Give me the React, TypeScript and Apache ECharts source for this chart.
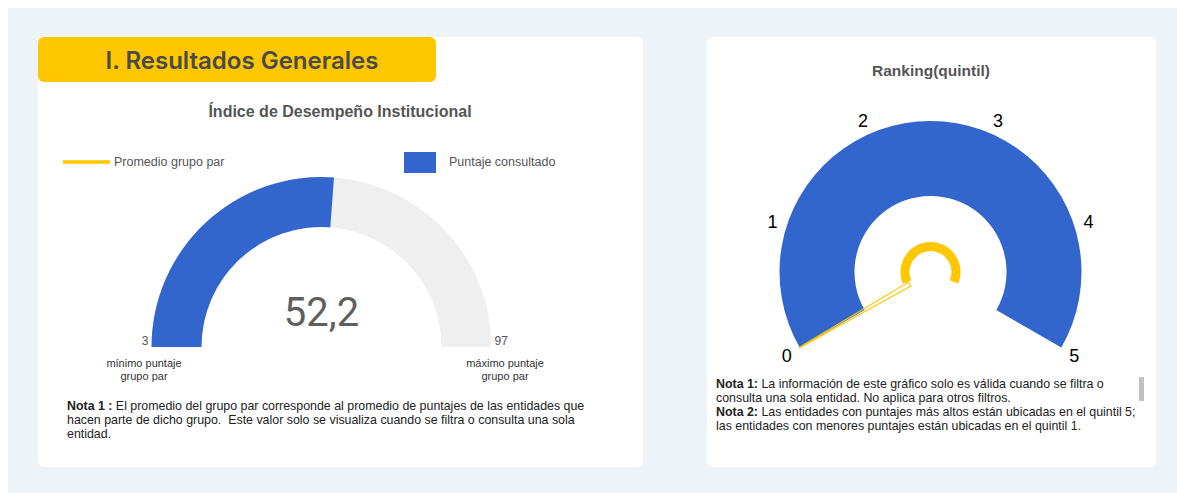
import React, { useEffect, useRef } from "react";
import * as echarts from "echarts";

// ---- data ----
const idiValue = 52.2;
const idiMin = 3;
const idiMax = 97;
const idiLabels = ["mínimo puntaje\ngrupo par", "máximo puntaje\ngrupo par"];
const legendNames = ["Promedio grupo par", "Puntaje consultado"];
const rankingValue = 0;
const rankingMin = 0;
const rankingMax = 5;
const rankingTicks = [0, 1, 2, 3, 4, 5];
const note1Lines = [
  "{b|Nota 1 :} El promedio del grupo par corresponde al promedio de puntajes de las entidades que",
  "hacen parte de dicho grupo.  Este valor solo se visualiza cuando se filtra o consulta una sola",
  "entidad.",
];
const note2Lines = [
  "{b|Nota 1:} La información de este gráfico solo es válida cuando se filtra o",
  "consulta una sola entidad. No aplica para otros filtros.",
  "{b|Nota 2:} Las entidades con puntajes más altos están ubicadas en el quintil 5;",
  "las entidades con menores puntajes están ubicadas en el quintil 1.",
];

const BLUE = "#3366cc";
const YELLOW = "#ffc700";
const GRAY = "#efefef";
const ARIAL = '"Liberation Sans", Arial, sans-serif';

// gauge geometry
const G1 = { cx: 313.5, cy: 339, r: 170, w: 50 };
const G2 = { cx: 922.5, cy: 264, r: 151, w: 75, start: 210, end: -30 };

const txt = (
  text: string,
  x: number,
  y: number,
  fontSize: number,
  fill: string,
  align = "left",
  vAlign = "middle",
  fontWeight: string | number = "normal",
  fontFamily = ARIAL,
  extra: any = {}
) => ({
  type: "text",
  x,
  y,
  z: 5,
  style: {
    text,
    fontSize,
    fontFamily,
    fontWeight,
    fill,
    align,
    verticalAlign: vAlign,
    textAlign: align,
    textVerticalAlign: vAlign,
    ...extra,
  },
});

const richNote = (lines: string[], x: number, y: number) => ({
  type: "text",
  x,
  y,
  z: 5,
  style: {
    text: lines.join("\n"),
    fontSize: 12.4,
    fontFamily: ARIAL,
    fill: "#222",
    lineHeight: 14,
    align: "left",
    verticalAlign: "top",
    textAlign: "left",
    textVerticalAlign: "top",
    rich: {
      b: {
        fontSize: 12.4,
        fontFamily: ARIAL,
        fontWeight: "bold",
        fill: "#222",
        lineHeight: 14,
      },
    },
  },
});

// tick labels of the ranking gauge, placed on the gauge's own angular scale
const rankingLabels = rankingTicks.map((v) => {
  const a =
    ((G2.start + ((v - rankingMin) / (rankingMax - rankingMin)) * (G2.end - G2.start)) * Math.PI) / 180;
  const rr = G2.r + 15;
  return txt(String(v), G2.cx + rr * Math.cos(a), G2.cy - rr * Math.sin(a) + 1, 18, "#000", "center", "middle");
});

export default function App() {
  const ref = useRef<HTMLDivElement>(null);
  useEffect(() => {
    if (!ref.current) return;
    const chart = echarts.init(ref.current, null, { renderer: "svg" });
    const option: any = {
      animation: false,
      backgroundColor: "#eef3f8",
      graphic: [
        { type: "rect", z: 0, shape: { x: 30, y: 29, width: 605, height: 430, r: 6 }, style: { fill: "#fff" } },
        { type: "rect", z: 0, shape: { x: 699, y: 29, width: 449, height: 430, r: 6 }, style: { fill: "#fff" } },
        { type: "rect", z: 1, shape: { x: 30, y: 29, width: 398, height: 45, r: 6 }, style: { fill: YELLOW } },
        txt("I. Resultados Generales", 234, 52, 24, "#4a4a4a", "center", "middle", 600, "Inter, sans-serif"),
        txt("Índice de Desempeño Institucional", 332, 103, 16, "#555", "center", "middle", "bold"),
        { type: "line", z: 5, shape: { x1: 55, y1: 154, x2: 102, y2: 154 }, style: { stroke: YELLOW, lineWidth: 3.5 } },
        txt(legendNames[0], 106, 154, 12.5, "#555"),
        { type: "rect", z: 5, shape: { x: 396, y: 144, width: 32, height: 21 }, style: { fill: BLUE } },
        txt(legendNames[1], 441, 154, 12.5, "#555"),
        txt(String(idiMin), G1.cx - G1.r - 3, G1.cy - 6, 12, "#555", "right", "middle"),
        txt(String(idiMax), G1.cx + G1.r + 3, G1.cy - 6, 12, "#555", "left", "middle"),
        txt(idiLabels[0], 136, 361, 11, "#333", "center", "middle", "normal", ARIAL, { lineHeight: 13 }),
        txt(idiLabels[1], 497, 361, 11, "#333", "center", "middle", "normal", ARIAL, { lineHeight: 13 }),
        richNote(note1Lines, 59, 391),
        txt("Ranking(quintil)", 923, 62, 15.5, "#555", "center", "middle", "bold"),
        ...rankingLabels,
        richNote(note2Lines, 708, 369),
        { type: "rect", z: 5, shape: { x: 1131, y: 369, width: 5, height: 24 }, style: { fill: "#c1c1c1" } },
      ],
      series: [
        {
          type: "gauge",
          center: [G1.cx, G1.cy],
          radius: G1.r,
          startAngle: 180,
          endAngle: 0,
          min: idiMin,
          max: idiMax,
          splitNumber: 1,
          axisLine: { lineStyle: { width: G1.w, color: [[1, GRAY]] } },
          progress: { show: true, width: G1.w, itemStyle: { color: BLUE } },
          pointer: { show: false },
          anchor: { show: false },
          axisTick: { show: false },
          splitLine: { show: false, length: 0, distance: 0 },
          axisLabel: { show: false },
          title: { show: false },
          detail: {
            offsetCenter: [0, -35],
            fontSize: 40,
            fontFamily: "Roboto, sans-serif",
            fontWeight: "normal",
            color: "#5f5f5f",
            formatter: (v: number) => v.toFixed(1).replace(".", ","),
          },
          data: [{ value: idiValue, name: legendNames[1] }],
        },
        {
          type: "gauge",
          center: [G2.cx, G2.cy],
          radius: G2.r,
          startAngle: G2.start,
          endAngle: G2.end,
          min: rankingMin,
          max: rankingMax,
          splitNumber: rankingTicks.length - 1,
          axisLine: { lineStyle: { width: G2.w, color: [[1, BLUE]] } },
          pointer: {
            show: true,
            icon: "path://M0 100 L10 100 L5.6 0 L4.4 0 Z",
            length: 127,
            width: 4.5,
            offsetCenter: [0, -24],
            itemStyle: { color: "rgba(255,255,255,0)", borderColor: YELLOW, borderWidth: 1.2 },
          },
          anchor: { show: false },
          axisTick: { show: false },
          splitLine: { show: false, length: 0, distance: 0 },
          axisLabel: { show: false },
          title: { show: false },
          detail: { show: false },
          data: [{ value: rankingValue, name: "Ranking(quintil)" }],
        },
        {
          type: "gauge",
          center: [G2.cx, G2.cy],
          radius: 30,
          startAngle: 203,
          endAngle: -23,
          min: 0,
          max: 1,
          axisLine: { lineStyle: { width: 9, color: [[1, YELLOW]] } },
          pointer: { show: false },
          anchor: { show: false },
          axisTick: { show: false },
          splitLine: { show: false },
          axisLabel: { show: false },
          title: { show: false },
          detail: { show: false },
          data: [{ value: 0 }],
        },
      ],
    };
    chart.setOption(option);
    return () => chart.dispose();
  }, []);
  return (
    <div
      ref={ref}
      style={{ position: "fixed", left: 8, top: 8, width: 1169, height: 485 }}
    />
  );
}
